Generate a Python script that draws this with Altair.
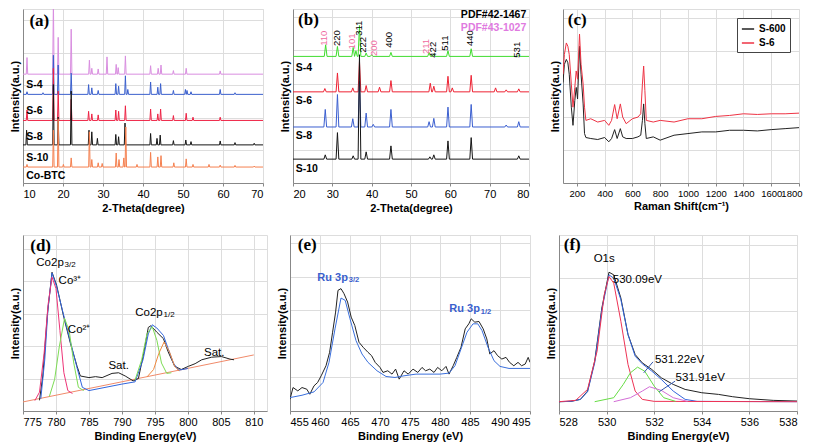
import altair as alt
import pandas as pd

FONT = "Liberation Sans"
SERIF = "Liberation Serif"

# ================= (a) XRD of precursors =================
A_NAMES = ["S-4", "S-6", "S-8", "S-10", "Co-BTC"]
A_COLORS = ["#d98ee0", "#3a5fcd", "#ee2244", "#151515", "#f5804f"]
A_BASE = [334, 272, 192, 117, 49]
A_S4_POS = [11.0, 17.6, 18.8, 22.05, 26.6, 27.2, 28.8, 31.0, 33.3, 33.8, 35.6, 41.9, 43.8, 44.5, 47.6, 50.8, 59.3]
A_S4_INT = [385, 560, 447, 472, 377, 352, 350, 387, 364, 354, 390, 360, 352, 362, 345, 352, 344]
A_S6_POS = [11.0, 15.0, 17.6, 18.8, 22.05, 26.4, 27.2, 28.8, 33.2, 33.9, 35.6, 36.2, 41.9, 43.7, 44.4, 47.6, 50.6, 51.0, 52.0, 59.3, 63.0]
A_S6_INT = [280, 277, 392, 362, 337, 302, 292, 284, 305, 297, 329, 287, 310, 294, 305, 284, 287, 284, 280, 287, 277]
A_S8_POS = [11.0, 17.6, 18.8, 22.05, 26.4, 27.2, 28.8, 33.2, 33.9, 35.6, 41.9, 43.7, 44.4, 47.6, 50.8, 52.5, 59.3]
A_S8_INT = [224, 352, 282, 257, 220, 212, 209, 224, 220, 237, 227, 212, 227, 207, 214, 202, 202]
A_S10_POS = [10.9, 17.6, 18.8, 22.05, 26.5, 27.2, 28.6, 33.2, 33.9, 35.5, 41.9, 43.5, 44.3, 47.6, 50.7, 52.0, 59.3, 63.0, 67.8]
A_S10_INT = [162, 302, 202, 282, 162, 157, 137, 149, 142, 184, 152, 137, 147, 130, 132, 127, 129, 124, 122]
A_CO_POS = [11.0, 17.6, 18.8, 20.1, 22.05, 26.6, 27.2, 28.8, 29.8, 33.3, 34.0, 35.2, 35.7, 38.5, 41.9, 43.7, 44.5, 47.7, 50.8, 52.5, 56.5, 59.3, 63.0, 67.8]
A_CO_INT = [57, 162, 197, 57, 77, 157, 72, 62, 60, 92, 72, 77, 172, 57, 94, 80, 84, 62, 74, 57, 57, 55, 54, 52]
A_LABEL_Y = [302, 220, 142, 77, 22]

# ================= (b) XRD of products =================
B_NAMES = ["S-4", "S-6", "S-8", "S-10"]
B_COLORS = ["#3fdc2e", "#ee2233", "#3b5fd0", "#151515"]
B_BASE = [382, 275, 169, 72]
B_S4_POS = [28.3, 31.3, 35.3, 36.0, 36.9, 38.6, 40.0, 44.9, 54.6, 55.8, 59.4, 65.3, 77.4]
B_S4_INT = [417, 412, 409, 399, 475, 392, 387, 394, 394, 389, 399, 405, 387]
B_S6_POS = [28.1, 31.3, 35.2, 36.9, 38.6, 42.0, 44.9, 54.9, 55.8, 59.4, 60.5, 65.3, 71.5, 74.2, 77.4]
B_S6_INT = [285, 332, 287, 367, 294, 289, 309, 301, 292, 322, 287, 325, 287, 281, 284]
B_S8_POS = [28.2, 31.3, 35.2, 36.9, 38.6, 40.4, 44.9, 54.6, 55.8, 59.4, 65.3, 74.2, 77.4]
B_S8_INT = [222, 267, 194, 307, 211, 177, 222, 185, 195, 229, 237, 175, 185]
B_S10_POS = [28.2, 31.3, 35.3, 36.9, 38.6, 44.9, 54.8, 55.8, 59.4, 65.3, 77.4]
B_S10_INT = [85, 152, 82, 387, 94, 112, 79, 85, 127, 137, 82]
B_LABEL_Y = [347, 247, 142, 42]
B_HKL = ["110", "220", "101", "311", "222", "200", "400", "211", "422", "511", "440", "531"]
B_HKL_X = [27.8, 31.2, 35.0, 36.8, 37.75, 40.5, 44.5, 53.7, 55.6, 58.6, 65.1, 77.0]
B_HKL_Y = [437, 437, 427, 467, 417, 407, 432, 412, 402, 422, 437, 402]
B_HKL_PINK = [True, False, True, False, False, True, False, True, False, False, False, False]

# ================= (c) Raman =================
C_X = [100, 110, 124, 135, 145, 160, 172, 185, 195, 205, 219, 230, 245, 255, 265, 300, 350, 400, 430, 450,
       472, 490, 513, 530, 555, 600, 640, 660, 672, 681, 690, 700, 750, 800, 900, 1000, 1100, 1200, 1300,
       1400, 1500, 1600, 1700, 1800]
C_S6 = [330, 390, 425, 415, 390, 300, 230, 290, 340, 315, 452, 360, 300, 230, 190, 195, 185, 190, 175, 190,
        238, 195, 240, 200, 180, 195, 200, 210, 300, 355, 280, 190, 185, 190, 185, 195, 195, 202, 205,
        210, 208, 210, 210, 212]
C_S600 = [305, 360, 375, 365, 330, 230, 175, 250, 290, 255, 415, 330, 240, 150, 138, 135, 132, 138, 125, 135,
          162, 135, 165, 140, 135, 135, 140, 145, 190, 240, 180, 135, 140, 130, 145, 150, 155, 155, 160,
          160, 158, 162, 165, 168]

# ================= (d) Co 2p =================
D_RAW_X = [777.5, 778.0, 778.7, 779.4, 780.1, 781.2, 782.2, 783.2, 783.7, 785.0, 786.0, 787.0, 788.5, 789.5,
           790.5, 791.7, 792.5, 793.3, 794.0, 794.4, 795.3, 796.3, 797.0, 798.0, 799.0, 800.1, 801.1, 802.1,
           803.6, 805.1, 806.4, 807.0]
D_RAW_Y = [33, 108, 298, 428, 388, 288, 208, 138, 108, 103, 106, 103, 116, 118,
           108, 93, 100, 178, 258, 263, 243, 223, 183, 138, 128, 138, 146, 158,
           166, 168, 160, 158]
D_BG_X = [775.0, 810.0]
D_BG_Y = [28, 173]
D_FIT_X = [777.7, 778.3, 778.8, 779.4, 780.1, 781.2, 782.2, 783.2, 784.0, 785.0, 790.0, 792.0, 793.2, 794.0,
           794.6, 795.3, 796.3, 797.0, 797.8, 798.6, 800.0]
D_FIT_Y = [38, 158, 318, 426, 383, 293, 213, 133, 73, 63, 83, 90, 158, 238,
           266, 256, 233, 193, 148, 126, 131]
D_CO3_X = [776.8, 777.5, 778.2, 778.8, 779.4, 780.0, 780.6, 781.2, 781.8, 782.5]
D_CO3_Y = [32, 58, 178, 328, 413, 378, 248, 118, 63, 54]
D_CO2_X = [779.0, 779.8, 780.5, 781.3, 782.0, 782.7, 783.4, 784.2]
D_CO2_Y = [45, 98, 198, 286, 248, 148, 73, 63]
D_CO2B_X = [792.0, 793.0, 793.8, 794.6, 795.3, 796.0, 796.8, 797.5]
D_CO2B_Y = [96, 158, 238, 260, 218, 148, 116, 118]
D_CO3B_X = [793.8, 794.8, 795.6, 796.4, 797.2, 798.0, 798.7]
D_CO3B_Y = [105, 128, 178, 213, 183, 138, 123]

# ================= (e) Ru 3p =================
E_RAW_X = [455, 455.5, 456.3, 457, 457.8, 458.3, 459, 459.6, 460.2, 461, 461.6, 462.1, 462.6, 463, 463.5, 464,
           464.6, 465.2, 465.8, 466.5, 467.2, 468, 468.6, 469.2, 470, 470.5, 471.3, 472, 472.6, 473.2, 474,
           474.7, 475.5, 476.3, 477, 477.6, 478.3, 479, 479.6, 480.3, 481, 481.5, 482.2, 482.8, 483.5, 484.2,
           484.8, 485.2, 485.8, 486.5, 487.2, 487.8, 488.3, 489, 489.6, 490.3, 491, 491.6, 492.3, 493, 493.6,
           494.2, 494.7, 495]
E_RAW_Y = [35, 70, 60, 70, 65, 50, 75, 85, 105, 135, 175, 235, 295, 360, 365, 350,
           325, 280, 255, 205, 190, 175, 165, 145, 130, 115, 120, 110, 125, 95, 120,
           110, 125, 115, 130, 120, 125, 115, 130, 120, 133, 110, 135, 160, 190, 245,
           260, 275, 265, 267, 245, 215, 170, 180, 165, 155, 160, 145, 135, 145, 135,
           140, 160, 145]
E_FIT_X = [455, 457, 459, 460.5, 461.5, 462.5, 463.5, 464.2, 465, 466, 467, 468, 469.5, 471, 472.5, 474, 476,
           478, 480, 481.5, 482.5, 483.5, 484.5, 485.5, 486.3, 487, 488, 489, 490, 491.5, 493, 495]
E_FIT_Y = [40, 47, 57, 85, 145, 245, 337, 330, 275, 210, 170, 145, 120, 103, 100, 105, 110,
           110, 110, 113, 135, 185, 235, 260, 260, 240, 190, 150, 133, 127, 127, 127]

# ================= (f) O 1s =================
F_RAW_X = [528, 528.5, 528.9, 529.2, 529.5, 529.8, 530.1, 530.3, 530.6, 530.9, 531.2, 531.5, 531.9, 532.3,
           532.8, 533.3, 534, 534.7, 535.3, 536, 537, 538]
F_RAW_Y = [28, 29, 35, 60, 150, 310, 418, 410, 340, 230, 170, 145, 125, 100, 80, 65, 55, 50, 43, 37, 32, 30]
F_FIT_X = [528, 528.5, 528.9, 529.2, 529.5, 529.8, 530.1, 530.3, 530.6, 530.9, 531.2, 531.5, 531.9, 532.3,
           532.8, 533.3, 533.8, 538]
F_FIT_Y = [28, 29, 35, 58, 145, 305, 410, 400, 335, 230, 165, 142, 120, 95, 60, 35, 29, 28]
F_P1_X = [528, 528.7, 529.2, 529.6, 529.9, 530.1, 530.3, 530.6, 530.9, 531.2, 531.5, 532, 538]
F_P1_Y = [28, 32, 65, 180, 350, 405, 385, 270, 140, 60, 35, 29, 28]
F_P2_X = [529.5, 530.3, 530.7, 531.0, 531.3, 531.6, 532.0, 532.4, 532.9]
F_P2_Y = [28, 40, 80, 115, 132, 120, 75, 40, 29]
F_P3_X = [530.3, 531.0, 531.5, 531.8, 532.3, 532.8, 533.4]
F_P3_Y = [28, 40, 60, 73, 62, 40, 29]
F_ARROW_X = [531.95, 532.88]
F_ARROW_Y = [148, 90]
F_ARROW_X2 = [531.56, 532.21]
F_ARROW_Y2 = [115, 58]


def xrd_frame(names, bases, pos_lists, int_lists, lo, hi, w):
    rows = []
    for name, base, ps, hs in zip(names, bases, pos_lists, int_lists):
        rows.append((name, lo, base))
        for p, h in zip(ps, hs):
            rows += [(name, p - w, base), (name, p, h), (name, p + w, base)]
        rows.append((name, hi, base))
    return pd.DataFrame(rows, columns=["s", "x", "y"])


def series_frame(items):
    rows = []
    for name, xs, ys in items:
        rows += [(name, a, b) for a, b in zip(xs, ys)]
    return pd.DataFrame(rows, columns=["s", "x", "y"])


def make_enc(xdom, xticks, xtitle, ymax, lsize=11, flush=False):
    ax = dict(values=xticks, title=xtitle, format="d", tickSize=3, labelPadding=2, titlePadding=3,
              labelOverlap=False, labelFontSize=lsize)
    if flush:
        ax.update(labelFlush=True, labelFlushOffset=3)
    xe = alt.X("x:Q", scale=alt.Scale(domain=xdom, nice=False, zero=False), axis=alt.Axis(**ax))
    ye = alt.Y("y:Q", scale=alt.Scale(domain=[0, ymax], nice=False, zero=False),
               axis=alt.Axis(labels=False, ticks=False, title="Intensity(a.u.)", titlePadding=3))
    return xe, ye


def text_layer(xe, ye, xs, ys, texts, **kw):
    df = pd.DataFrame({"x": xs, "y": ys, "t": texts})
    return alt.Chart(df).mark_text(**kw).encode(x=xe, y=ye, text="t:N")


def lines_layer(df, xe, ye, names, colors, legend=None, width=1.0):
    return alt.Chart(df).mark_line(strokeWidth=width, clip=True).encode(
        x=xe, y=ye,
        color=alt.Color("s:N", scale=alt.Scale(domain=names, range=colors), legend=legend),
        detail="s:N")


def panel_label(xe, ye, x, y, t):
    return text_layer(xe, ye, [x], [y], [t], font=SERIF, fontSize=17, fontWeight="bold",
                      align="left", baseline="middle", color="black")


# ---- panel a ----
xa, ya = make_enc([10, 70], list(range(10, 71, 10)), "2-Theta(degree)", 534)
dfa = xrd_frame(A_NAMES, A_BASE, [A_S4_POS, A_S6_POS, A_S8_POS, A_S10_POS, A_CO_POS],
                [A_S4_INT, A_S6_INT, A_S8_INT, A_S10_INT, A_CO_INT], 10, 70, 0.18)
pa = alt.layer(
    lines_layer(dfa, xa, ya, A_NAMES, A_COLORS),
    text_layer(xa, ya, [10.8] * 5, A_LABEL_Y, A_NAMES, font=FONT, fontSize=10.5, fontWeight="bold",
               align="left", baseline="middle", color="black"),
    panel_label(xa, ya, 11.6, 497, "(a)"),
).properties(width=240, height=174)

# ---- panel b ----
xb, yb = make_enc([20, 80], list(range(20, 81, 10)), "2-Theta(degree)", 525)
dfb = xrd_frame(B_NAMES, B_BASE, [B_S4_POS, B_S6_POS, B_S8_POS, B_S10_POS],
                [B_S4_INT, B_S6_INT, B_S8_INT, B_S10_INT], 20, 80, 0.35)
pink_idx = [i for i, p in enumerate(B_HKL_PINK) if p]
blk_idx = [i for i, p in enumerate(B_HKL_PINK) if not p]
pb = alt.layer(
    lines_layer(dfb, xb, yb, B_NAMES, B_COLORS),
    text_layer(xb, yb, [20.7] * 4, B_LABEL_Y, B_NAMES, font=FONT, fontSize=10.5, fontWeight="bold",
               align="left", baseline="middle", color="black"),
    text_layer(xb, yb, [B_HKL_X[i] for i in pink_idx], [B_HKL_Y[i] for i in pink_idx],
               [B_HKL[i] for i in pink_idx], font=FONT, fontSize=9.5, angle=270,
               align="center", baseline="middle", color="#ef6aa0"),
    text_layer(xb, yb, [B_HKL_X[i] for i in blk_idx], [B_HKL_Y[i] for i in blk_idx],
               [B_HKL[i] for i in blk_idx], font=FONT, fontSize=9.5, angle=270,
               align="center", baseline="middle", color="black"),
    text_layer(xb, yb, [79.3], [507], ["PDF#42-1467"], font=FONT, fontSize=10.5, fontWeight="bold",
               align="right", baseline="middle", color="black"),
    text_layer(xb, yb, [79.3], [469], ["PDF#43-1027"], font=FONT, fontSize=10.5, fontWeight="bold",
               align="right", baseline="middle", color="#e07ae0"),
    panel_label(xb, yb, 21.3, 492, "(b)"),
).properties(width=236, height=174)

# ---- panel c ----
xc, yc = make_enc([100, 1800], list(range(200, 1801, 200)), "Raman Shift(cm\u207b\u00b9)", 528,
                  lsize=9.5, flush=True)
dfc = series_frame([("S-600", C_X, C_S600), ("S-6", C_X, C_S6)])
leg = alt.Legend(orient="top-right", title=None, offset=9, strokeColor="#444", fillColor="white",
                 padding=4, labelFont=FONT, labelFontSize=10, labelFontWeight="bold",
                 symbolType="stroke", symbolStrokeWidth=1.5, symbolSize=150, rowPadding=2)
pc = alt.layer(
    lines_layer(dfc, xc, yc, ["S-600", "S-6"], ["#222222", "#ee3344"], legend=leg),
    panel_label(xc, yc, 135, 495, "(c)"),
).properties(width=236, height=174)

# ---- panel d ----
xd, yd = make_enc([775, 812], list(range(775, 811, 5)), "Binding Energy(eV)", 543)
dfd = series_frame([("bg", D_BG_X, D_BG_Y), ("raw", D_RAW_X, D_RAW_Y), ("fit", D_FIT_X, D_FIT_Y),
                    ("co3", D_CO3_X, D_CO3_Y), ("co2", D_CO2_X, D_CO2_Y),
                    ("co2b", D_CO2B_X, D_CO2B_Y), ("co3b", D_CO3B_X, D_CO3B_Y)])
d_txt = dict(font=FONT, color="black", baseline="middle")
pd_ = alt.layer(
    lines_layer(dfd, xd, yd, ["bg", "raw", "fit", "co3", "co2", "co2b", "co3b"],
                ["#f08a6a", "#222222", "#3366dd", "#ee3377", "#7ddc55", "#7ddc55", "#f08a40"]),
    text_layer(xd, yd, [779.1, 794.1], [458, 303], ["Co2p", "Co2p"], fontSize=11.5, align="center", **d_txt),
    text_layer(xd, yd, [781.3, 796.3], [451, 296], ["3/2", "1/2"], fontSize=8, align="left", **d_txt),
    text_layer(xd, yd, [780.4, 781.8], [401, 251], ["Co\u00b3\u207a", "Co\u00b2\u207a"], fontSize=11.5,
               align="left", **d_txt),
    text_layer(xd, yd, [789.5, 804.0], [138, 180], ["Sat.", "Sat."], fontSize=11.5, align="center", **d_txt),
    panel_label(xd, yd, 776.1, 508, "(d)"),
).properties(width=244, height=176)

# ---- panel e ----
xe_, ye_ = make_enc([455, 495], list(range(455, 496, 5)), "Binding Energy (eV)", 525)
dfe = series_frame([("raw", E_RAW_X, E_RAW_Y), ("fit", E_FIT_X, E_FIT_Y)])
e_txt = dict(font=FONT, color="#3a5fcd", fontWeight="bold", baseline="middle")
pe = alt.layer(
    lines_layer(dfe, xe_, ye_, ["raw", "fit"], ["#222222", "#3a6fdc"]),
    text_layer(xe_, ye_, [462.1, 484.1], [398, 303], ["Ru 3p", "Ru 3p"], fontSize=11, align="center", **e_txt),
    text_layer(xe_, ye_, [464.8, 486.8], [390, 295], ["3/2", "1/2"], fontSize=7.5, align="left", **e_txt),
    panel_label(xe_, ye_, 456.3, 495, "(e)"),
).properties(width=240, height=176)

# ---- panel f ----
xf, yf = make_enc([528, 538], list(range(528, 539, 2)), "Binding Energy(eV)", 530)
dff = series_frame([("raw", F_RAW_X, F_RAW_Y), ("fit", F_FIT_X, F_FIT_Y), ("p1", F_P1_X, F_P1_Y),
                    ("p2", F_P2_X, F_P2_Y), ("p3", F_P3_X, F_P3_Y)])
arrows = pd.DataFrame({"x": F_ARROW_X, "y": F_ARROW_Y, "x2": F_ARROW_X2, "y2": F_ARROW_Y2})
f_txt = dict(font=FONT, color="black", baseline="middle", fontSize=11.5)
pf = alt.layer(
    lines_layer(dff, xf, yf, ["raw", "fit", "p1", "p2", "p3"],
                ["#222222", "#3366dd", "#ee3355", "#66dd44", "#d36ed6"]),
    alt.Chart(arrows).mark_rule(color="#3355aa", strokeWidth=1).encode(x=xf, y=yf, x2="x2:Q", y2="y2:Q"),
    text_layer(xf, yf, [529.9], [458], ["O1s"], align="center", **f_txt),
    text_layer(xf, yf, [530.26, 532.03, 532.9], [395, 155, 100], ["530.09eV", "531.22eV", "531.91eV"],
               align="left", **f_txt),
    panel_label(xf, yf, 528.2, 500, "(f)"),
).properties(width=238, height=176)

top = alt.hconcat(
    alt.hconcat(pa, pb, spacing=14).resolve_scale(color="independent"), pc, spacing=18
).resolve_scale(color="independent")
bottom = alt.hconcat(
    alt.hconcat(pd_, pe, spacing=7).resolve_scale(color="independent"), pf, spacing=13
).resolve_scale(color="independent")
chart = alt.vconcat(top, bottom, spacing=20).resolve_scale(color="independent").properties(
    padding=0
).configure_view(
    stroke="#333333", strokeWidth=1
).configure_axis(
    grid=False, domainColor="#333333", tickColor="#333333", labelColor="black", titleColor="black",
    labelFont=FONT, labelFontSize=11, labelFontWeight="bold",
    titleFont=FONT, titleFontSize=13, titleFontWeight="bold",
).configure(background="white")

chart.save("out.html", embed_options={"renderer": "svg", "actions": False})
